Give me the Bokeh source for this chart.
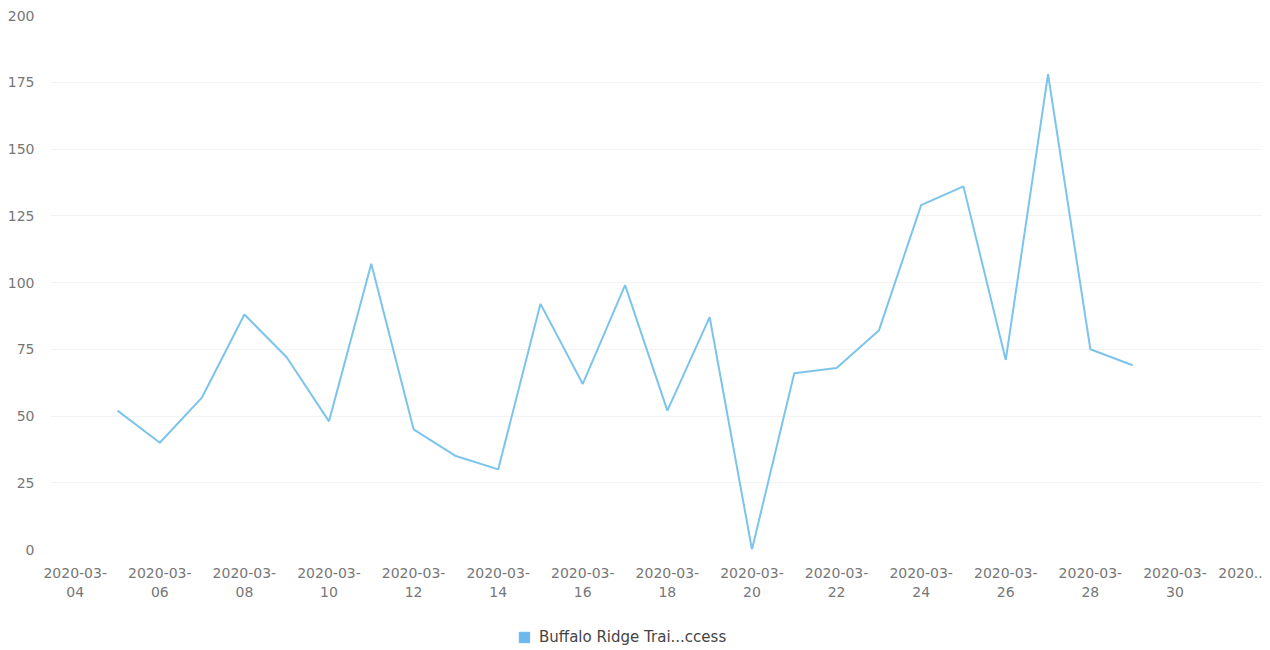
from bokeh.plotting import figure
from bokeh.layouts import column
from bokeh.models import ColumnDataSource, Legend, LegendItem, FixedTicker, Range1d
from bokeh.embed import file_html
from bokeh.resources import INLINE

days = [5, 6, 7, 8, 9, 10, 11, 12, 13, 14, 15, 16, 17, 18, 19, 20, 21, 22, 23, 24, 25, 26, 27, 28, 29]
dates = ["2020-03-%02d" % d for d in days]
visits = [52, 40, 57, 88, 72, 48, 107, 45, 35, 30, 92, 62, 99, 52, 87, 0, 66, 68, 82, 129, 136, 71, 178, 75, 69]
series_name = "Buffalo Ridge Trai...ccess"
tick_days = [4, 6, 8, 10, 12, 14, 16, 18, 20, 22, 24, 26, 28, 30]
y_ticks = [0, 25, 50, 75, 100, 125, 150, 175, 200]

src = ColumnDataSource(dict(x=days, y=visits, date=dates))

p = figure(width=1270, height=610, output_backend="svg", toolbar_location=None,
           x_range=Range1d(3.416, 32.07), y_range=Range1d(0, 200),
           min_border_left=50, min_border_right=8, min_border_top=15, min_border_bottom=61)
p.outline_line_color = None
p.background_fill_color = "white"

r = p.line("x", "y", source=src, line_color="#7cc4ec", line_width=2)

overrides = {d: "2020-03-\n%02d" % d for d in tick_days}
overrides[31.55] = "2020.."
p.xaxis.ticker = FixedTicker(ticks=tick_days + [31.55])
p.xaxis.major_label_overrides = overrides
p.yaxis.ticker = FixedTicker(ticks=y_ticks)

for ax in (p.xaxis, p.yaxis):
    ax.axis_line_color = None
    ax.major_tick_line_color = None
    ax.minor_tick_line_color = None
    ax.major_label_text_color = "#777777"
    ax.major_label_text_font = "DejaVu Sans"
    ax.major_label_text_font_size = "14px"
p.xaxis.major_label_standoff = 9
p.yaxis.major_label_standoff = 10

p.xgrid.grid_line_color = None
p.ygrid.grid_line_color = "#f3f3f3"
p.ygrid.grid_line_width = 1

# legend strip below the chart (series swatch; its points fall outside this strip's ranges)
lf = figure(width=1270, height=40, output_backend="svg", toolbar_location=None,
            x_axis_type=None, y_axis_type=None,
            x_range=Range1d(-2, -1), y_range=Range1d(-2, -1),
            min_border=0, min_border_left=0, min_border_right=0, min_border_top=0, min_border_bottom=0)
lf.grid.visible = False
lf.outline_line_color = None
sq = lf.scatter("x", "y", source=src, marker="square", size=11,
                fill_color="#6cb8ea", line_color="#6cb8ea")
legend = Legend(items=[LegendItem(label=series_name, renderers=[sq])], location=(461, 0),
                orientation="horizontal", border_line_color=None, background_fill_alpha=0,
                label_text_font="DejaVu Sans", label_text_font_size="15px", label_text_color="#444444",
                glyph_width=26, glyph_height=26, padding=0, margin=0, label_standoff=2,
                label_height=15)
lf.add_layout(legend, "center")

layout = column(p, lf, spacing=0)
open("out.html", "w").write(file_html(layout, INLINE))
